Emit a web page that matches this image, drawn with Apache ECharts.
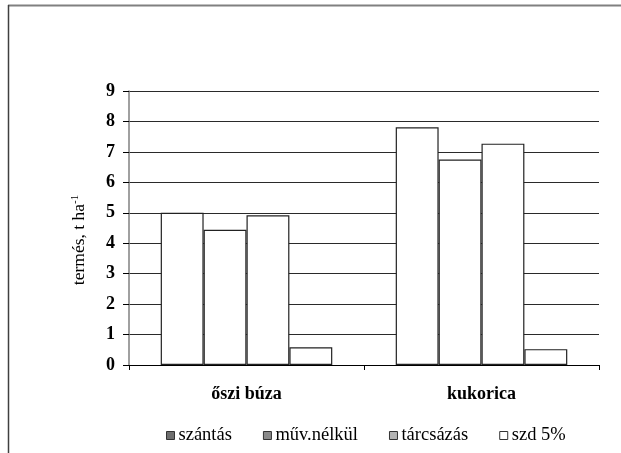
<!DOCTYPE html>
<html>
<head>
<meta charset="utf-8">
<script src="https://cdn.jsdelivr.net/npm/echarts@6/dist/echarts.min.js"></script>
<style>
html,body{margin:0;padding:0;background:#fff;}
#c{width:621px;height:453px;}
</style>
</head>
<body>
<div id="c"></div>
<script>
var categories = ['őszi búza', 'kukorica'];
var seriesNames = ['szántás', 'műv.nélkül', 'tárcsázás', 'szd 5%'];
var szantas = [5.0, 7.81];
var muvNelkul = [4.44, 6.75];
var tarcsazas = [4.92, 7.27];
var szd5 = [0.58, 0.52];
var yTicks = [0, 1, 2, 3, 4, 5, 6, 7, 8, 9];
var legendColors = ['#6e6e6e', '#8a8a8a', '#b4b4b4', '#ffffff'];

var values = [szantas, muvNelkul, tarcsazas, szd5];
var serif = '"Liberation Serif", "Times New Roman", serif';

var chart = echarts.init(document.getElementById('c'), null, {renderer: 'canvas'});
var option = {
  animation: false,
  backgroundColor: '#fff',
  graphic: [
    {type: 'line', shape: {x1: 8, y1: 5.5, x2: 621, y2: 5.5}, style: {stroke: '#808080', lineWidth: 2}},
    {type: 'line', shape: {x1: 8.5, y1: 5, x2: 8.5, y2: 453}, style: {stroke: '#404040', lineWidth: 1.5}}
  ],
  grid: {left: 129, right: 22, top: 91, bottom: 88, containLabel: false},
  legend: {
    left: 161,
    top: 421,
    itemWidth: 8,
    itemHeight: 8,
    itemGap: 31,
    icon: 'rect',
    textStyle: {fontFamily: serif, fontSize: 18.5, color: '#000', padding: [0, 0, 0, -1]},
    data: seriesNames.map(function (n, i) {
      return {name: n, itemStyle: {color: legendColors[i], borderColor: '#333', borderWidth: 1}};
    })
  },
  xAxis: {
    type: 'category',
    data: categories,
    axisLine: {lineStyle: {color: '#000', width: 1}},
    axisTick: {show: true, alignWithLabel: false, length: 5, lineStyle: {color: '#000'}},
    axisLabel: {fontFamily: serif, fontSize: 18, fontWeight: 'bold', color: '#000', margin: 20}
  },
  yAxis: {
    type: 'value',
    min: 0,
    max: 9,
    interval: 1,
    name: 'termés, t ha{sup|-1}',
    nameLocation: 'middle',
    nameGap: 40,
    nameRotate: 90,
    nameTextStyle: {
      fontFamily: serif, fontSize: 17.5, color: '#000', padding: [0, 24, 0, 0],
      rich: {sup: {fontFamily: serif, fontSize: 11, color: '#000', verticalAlign: 'top', padding: [0, 0, 8, 0]}}
    },
    axisLine: {show: true, lineStyle: {color: '#808080', width: 1.5}},
    axisTick: {show: true, inside: false, length: 6, lineStyle: {color: '#000'}},
    axisLabel: {
      fontFamily: serif, fontSize: 18, fontWeight: 'bold', color: '#000', margin: 14,
      formatter: function (v) { return yTicks.indexOf(v) >= 0 ? String(v) : ''; }
    },
    splitLine: {show: true, lineStyle: {color: '#2a2a2a', width: 1}}
  },
  series: seriesNames.map(function (n, i) {
    return {
      name: n,
      type: 'bar',
      data: values[i],
      barGap: '0%',
      barCategoryGap: '27%',
      itemStyle: {color: '#ffffff', borderColor: '#222', borderWidth: 1.2}
    };
  })
};
chart.setOption(option);
</script>
</body>
</html>
